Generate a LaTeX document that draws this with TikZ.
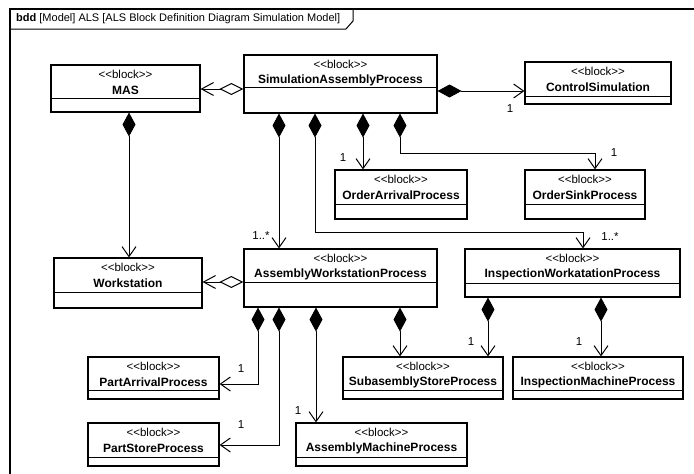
\documentclass[tikz,border=0pt]{standalone}
\usepackage{fontspec}
\setmainfont{Liberation Sans}
\usetikzlibrary{arrows.meta}
\tikzset{
  blkbox/.style={draw, line width=1.1pt, inner sep=0pt, fill=white},
  blkline/.style={line width=1pt},
  stereo/.style={font=\fontsize{11.5}{13}\selectfont, inner sep=0pt},
  bname/.style={font=\fontsize{12}{14}\selectfont\bfseries, inner sep=0pt},
  mult/.style={font=\fontsize{11.5}{13}\selectfont, inner sep=0pt},
  comp/.style={line width=1pt, {Diamond[length=24pt,width=13pt]}-{Straight Barb[length=10pt,width=14pt]}},
  agg/.style={line width=1pt, {Diamond[open,length=24pt,width=12pt]}-{Straight Barb[length=12pt,width=13pt]}},
  framestyle/.style={line width=1.5pt},
  tabstyle/.style={line width=1pt},
  titlestyle/.style={font=\fontsize{11}{13}\selectfont, inner sep=0pt, anchor=west}
}
% #1 name, #2 left, #3 right, #4 top, #5 divider, #6 bottom, #7 title
\newcommand\blk[7]{%
  \pgfmathsetmacro\bw{#3-#2}\pgfmathsetmacro\bh{#6-#4}%
  \pgfmathsetmacro\bx{(#2+#3)/2}\pgfmathsetmacro\by{(#4+#6)/2}%
  \node[blkbox, minimum width=\bw pt, minimum height=\bh pt] (#1) at (\bx,\by) {};
  \draw[blkline] (#1.west |- 0,#5) -- (#1.east |- 0,#5);
  \node[stereo] (#1-s) at (\bx,#4+9) {<\kern0pt<block>\kern0pt>};
  \node[bname] (#1-n) at (\bx,#4+25) {#7};
}
\begin{document}
\begin{tikzpicture}[x=1pt,y=-1pt]
\useasboundingbox (0,0) rectangle (694,474);
\fill[white] (0,0) rectangle (694,474);
\draw[framestyle] (10,474) -- (10,9) -- (694,9);
\draw[tabstyle] (10,29) -- (346,29) -- (353,21) -- (353,9);
\node[titlestyle] (title) at (16,19) {\textbf{bdd} [Model] ALS [ALS Block Definition Diagram Simulation Model]};

\blk{SA}{244}{437}{55}{87}{113}{SimulationAssemblyProcess}
\blk{MAS}{51}{200}{65}{98}{112}{MAS}
\blk{CS}{525}{671}{62}{96}{104}{ControlSimulation}
\blk{OA}{335}{467}{170}{204}{219}{OrderArrivalProcess}
\blk{OS}{525}{645}{170}{204}{219}{OrderSinkProcess}
\blk{WS}{54}{202}{258}{292}{308}{Workstation}
\blk{AWP}{244}{437}{249}{282}{307}{AssemblyWorkstationProcess}
\blk{IWP}{465}{680}{249}{283}{297}{InspectionWorkatationProcess}
\blk{PA}{88}{219}{357}{390}{399}{PartArrivalProcess}
\blk{PS}{88}{219}{423}{457}{466}{PartStoreProcess}
\blk{AM}{296}{467}{423}{457}{466}{AssemblyMachineProcess}
\blk{SS}{343}{503}{357}{390}{399}{SubasemblyStoreProcess}
\blk{IM}{513}{683}{357}{390}{399}{InspectionMachineProcess}

% connectors
\draw[agg] (SA.west |- 0,89) -- (MAS.east |- 0,89);
\draw[comp] (SA.east |- 0,91) -- (CS.west |- 0,91);
\draw[comp] (MAS.south -| 129,0) -- (WS.north -| 129,0);
\draw[comp] (SA.south -| 279,0) -- (AWP.north -| 279,0);
\draw[comp] (SA.south -| 315,0) -- (315,232) -- (583,232) -- (IWP.north -| 583,0);
\draw[comp] (SA.south -| 363,0) -- (OA.north -| 363,0);
\draw[comp] (SA.south -| 400,0) -- (400,153) -- (595,153) -- (OS.north -| 595,0);
\draw[agg] (AWP.west |- 0,282) -- (WS.east |- 0,282);
\draw[comp] (AWP.south -| 258,0) -- (258,384) -- (PA.east |- 0,384);
\draw[comp] (AWP.south -| 279,0) -- (279,445) -- (PS.east |- 0,445);
\draw[comp] (AWP.south -| 316,0) -- (AM.north -| 316,0);
\draw[comp] (AWP.south -| 400,0) -- (SS.north -| 400,0);
\draw[comp] (IWP.south -| 488,0) -- (SS.north -| 488,0);
\draw[comp] (IWP.south -| 601,0) -- (IM.north -| 601,0);

% multiplicities
\node[mult] (m1) at (510,109) {1};
\node[mult] (m2) at (261,236) {1..*};
\node[mult] (m3) at (610,237) {1..*};
\node[mult] (m4) at (343,158) {1};
\node[mult] (m5) at (614,153) {1};
\node[mult] (m6) at (241,369) {1};
\node[mult] (m7) at (241,425) {1};
\node[mult] (m8) at (298,411) {1};
\node[mult] (m9) at (471,342) {1};
\node[mult] (m10) at (579,342) {1};
\end{tikzpicture}
\end{document}
